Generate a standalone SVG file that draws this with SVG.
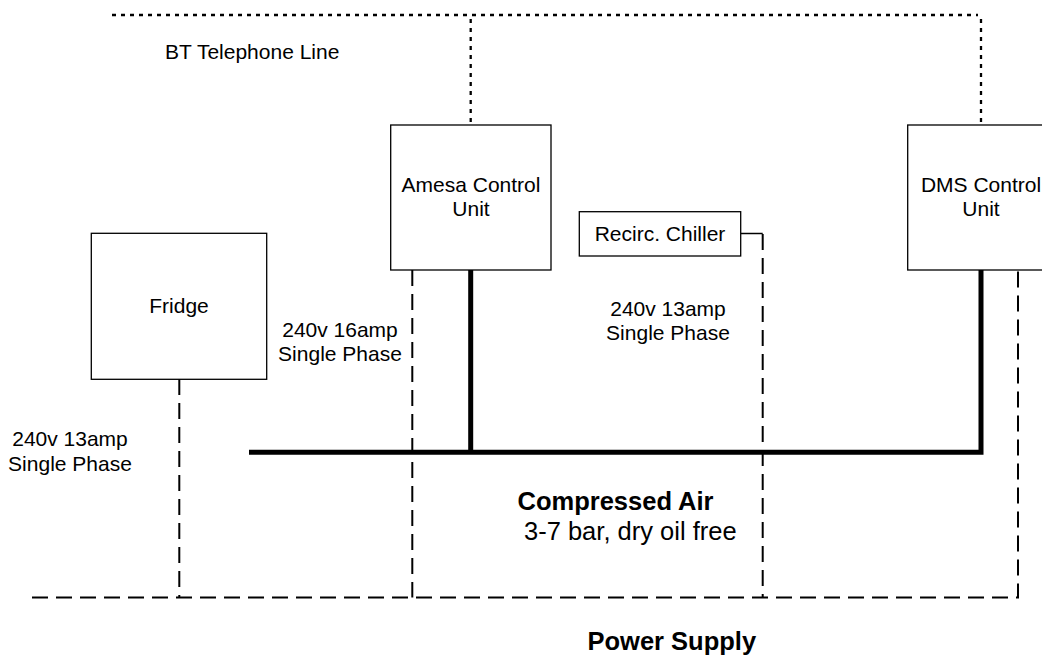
<svg xmlns="http://www.w3.org/2000/svg" width="1042" height="664" viewBox="0 0 1042 664">
<style>
.box{fill:#fff;stroke:#000;stroke-width:1.3}
.t{font-family:"Liberation Sans",Arial,sans-serif;font-size:21px;fill:#000}
.tc{text-anchor:middle}
.big{font-family:"Liberation Sans",Arial,sans-serif;font-size:25.5px;fill:#000}
.b{font-weight:bold}
.phone{fill:none;stroke:#000;stroke-width:2.3;stroke-dasharray:4 5}
.power{fill:none;stroke:#000;stroke-width:2;stroke-dasharray:16 8}
.air{fill:none;stroke:#000;stroke-width:5}
.wire{fill:none;stroke:#000;stroke-width:1.5}
</style>
<rect width="1042" height="664" fill="#fff"/>
<g id="connectors">
<path class="phone" d="M112,15 H978"/>
<path class="phone" d="M470.7,19 V125"/>
<path class="phone" d="M981,19 V125"/>
<path class="power" d="M32,597.5 H1018 V270"/>
<path class="power" d="M179.3,379 V597.5"/>
<path class="power" d="M412.3,270 V597.5"/>
<path class="wire" d="M740.7,233.5 H762.7"/>
<path class="power" d="M762.7,234 V597.5"/>
<path class="air" d="M249,452.3 H981 V270"/>
<path class="air" d="M470.7,270 V452.3"/>
</g>
<g id="amesa">
<rect class="box" x="390.7" y="125" width="160.3" height="145"/>
<text class="t tc" x="471" y="192">Amesa Control</text>
<text class="t tc" x="471" y="216">Unit</text>
</g>
<g id="dms">
<rect class="box" x="907.7" y="125" width="146" height="145"/>
<text class="t tc" x="981" y="192">DMS Control</text>
<text class="t tc" x="981" y="216">Unit</text>
</g>
<g id="chiller">
<rect class="box" x="579.3" y="211.7" width="161.4" height="44.3"/>
<text class="t tc" x="660" y="240.5">Recirc. Chiller</text>
</g>
<g id="fridge">
<rect class="box" x="91.3" y="233.3" width="175.4" height="146"/>
<text class="t tc" x="179" y="313">Fridge</text>
</g>
<g id="labels">
<text class="t" x="165" y="59">BT Telephone Line</text>
<text class="t tc" x="340" y="337">240v 16amp</text>
<text class="t tc" x="340" y="361">Single Phase</text>
<text class="t tc" x="70" y="446">240v 13amp</text>
<text class="t tc" x="70" y="470.5">Single Phase</text>
<text class="t tc" x="668" y="315.5">240v 13amp</text>
<text class="t tc" x="668" y="340">Single Phase</text>
<text class="big b" x="517.5" y="509.5">Compressed Air</text>
<text class="big" x="524" y="540">3-7 bar, dry oil free</text>
<text class="big b" x="587.5" y="650">Power Supply</text>
</g>
</svg>
